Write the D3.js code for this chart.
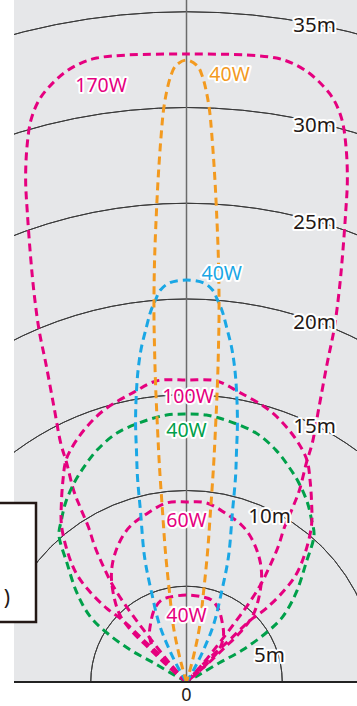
<!DOCTYPE html>
<html>
<head>
<meta charset="utf-8">
<script src="https://cdn.jsdelivr.net/npm/d3@7"></script>
<style>
  html, body { margin: 0; padding: 0; background: #fff; }
  svg { display: block; }
</style>
</head>
<body>
<svg id="chart" width="357" height="706"></svg>
<script>
// Distance rings (m)
const rings = [5, 10, 15, 20, 25, 30, 35];
const ringLabels = ["5m", "10m", "15m", "20m", "25m", "30m", "35m"];
const originLabel = "0";

// Half outlines of each light distribution (lateral m, forward m), from the tip back to the lamp
const lamp170W = [[0, 32.79], [3.13, 32.74], [4.70, 32.58], [5.51, 32.32], [6.40, 31.80], [7.18, 31.07], [7.70, 30.39],
  [8.12, 29.35], [8.33, 27.94], [8.40, 26.21], [8.31, 24.49], [8.14, 22.19], [7.96, 20.31], [7.70, 18.38],
  [7.35, 16.66], [6.92, 14.36], [6.57, 12.48], [6.26, 11.44], [5.90, 10.03], [5.56, 9.14], [5.12, 8.09],
  [4.78, 7.05], [4.33, 6.01], [3.92, 5.17], [3.34, 4.23], [2.51, 3.08], [1.67, 1.98], [0.84, 0.94], [0, 0]];
const lamp40WOrange = [[0, 32.48], [0.57, 32.17], [0.84, 31.59], [1.04, 30.81], [1.20, 29.87], [1.31, 28.72],
  [1.46, 26.63], [1.57, 24.54], [1.67, 21.93], [1.70, 19.32], [1.67, 17.49], [1.62, 15.67], [1.51, 13.16],
  [1.41, 11.23], [1.25, 8.88], [1.10, 6.79], [0.89, 4.70], [0.68, 2.87], [0.42, 1.57], [0.21, 0.73], [0, 0]];
const lamp40WCyan = [[0, 20.99], [0.89, 20.84], [1.36, 20.47], [1.62, 19.95], [1.88, 19.32], [2.09, 18.54],
  [2.35, 17.49], [2.51, 16.45], [2.61, 15.25], [2.66, 13.58], [2.61, 12.01], [2.56, 10.70], [2.40, 8.88],
  [2.19, 6.53], [1.83, 4.70], [1.41, 2.98], [0.84, 1.57], [0.37, 0.63], [0, 0]];
const lamp100W = [[0, 15.77], [1.57, 15.72], [2.74, 15.14], [4.31, 14.20], [5.35, 13.16], [6.06, 12.11],
  [6.32, 11.49], [6.45, 10.55], [6.53, 9.40], [6.53, 8.20], [6.21, 6.79], [5.74, 5.64], [5.12, 4.80],
  [4.18, 3.86], [3.29, 3.19], [2.19, 2.14], [1.04, 1.10], [0, 0]];
const lamp40WGreen = [[0, 13.99], [1.04, 13.94], [2.19, 13.63], [3.63, 13.00], [4.67, 12.11], [5.35, 11.23],
  [5.87, 10.39], [6.32, 9.35], [6.53, 8.46], [6.66, 7.68], [6.24, 6.21], [5.72, 4.65], [5.01, 3.39],
  [4.15, 2.56], [2.92, 1.67], [1.70, 0.99], [0.65, 0.37], [0, 0]];
const lamp60W = [[0, 9.40], [1.04, 9.35], [2.25, 8.67], [2.87, 8.20], [3.26, 7.73], [3.63, 7.00], [3.86, 6.21],
  [3.92, 5.43], [3.76, 4.33], [3.45, 3.45], [2.82, 2.61], [1.98, 1.78], [1.04, 0.89], [0, 0]];
const lamp40WSmall = [[0, 4.54], [0.84, 4.44], [1.31, 4.28], [1.67, 3.81], [1.88, 3.03], [1.93, 2.40],
  [1.72, 1.72], [1.15, 1.04], [0.52, 0.42], [0, 0]];

const seriesNames = ["170W", "40W", "40W", "100W", "40W", "60W", "40W"];
const seriesData = [lamp170W, lamp40WOrange, lamp40WCyan, lamp100W, lamp40WGreen, lamp60W, lamp40WSmall];
const seriesColors = ["#e5007f", "#f39a1f", "#1aa7e5", "#e5007f", "#00a04a", "#e5007f", "#e5007f"];

// ---------- layout ----------
const W = 357, H = 706;
const plot = { left: 14, right: 357, top: 0, bottom: 682 };
const cx = 186.5;
const pxPerM = 19.15;

const x = d3.scaleLinear().domain([-1, 1]).range([cx - pxPerM, cx + pxPerM]);
const y = d3.scaleLinear().domain([0, 35]).range([plot.bottom, plot.bottom - 35 * pxPerM]);
const rpx = m => x(m) - x(0);

const svg = d3.select("#chart");
const font = "'Noto Sans', 'DejaVu Sans', sans-serif";

svg.append("defs").append("clipPath").attr("id", "plotClip")
  .append("rect")
  .attr("x", plot.left).attr("y", plot.top)
  .attr("width", plot.right - plot.left).attr("height", plot.bottom - plot.top);

svg.append("rect")
  .attr("x", plot.left).attr("y", plot.top)
  .attr("width", plot.right - plot.left).attr("height", plot.bottom - plot.top)
  .attr("fill", "#e6e7e9");

const g = svg.append("g").attr("clip-path", "url(#plotClip)");

// distance rings
const arc = d3.arc()
  .startAngle(-Math.PI / 2).endAngle(Math.PI / 2);
g.selectAll("path.ring").data(rings).join("path")
  .attr("class", "ring")
  .attr("transform", `translate(${x(0)},${y(0)})`)
  .attr("d", r => arc({ innerRadius: rpx(r), outerRadius: rpx(r) }))
  .attr("fill", "none")
  .attr("stroke", "#3a3a3a")
  .attr("stroke-width", 1);

// centre axis
g.append("line")
  .attr("x1", x(0)).attr("x2", x(0))
  .attr("y1", plot.top).attr("y2", plot.bottom)
  .attr("stroke", "#6b6b6b").attr("stroke-width", 1.5);

// light distribution outlines, mirrored about the axis
const line = d3.line()
  .x(d => x(d[0])).y(d => y(d[1]))
  .curve(d3.curveCatmullRom.alpha(0.5));
const fullOutline = half => {
  const left = half.slice().reverse().map(d => [-d[0], d[1]]);
  return left.concat(half.slice(1));
};
const drawOrder = [0, 4, 3, 5, 6, 2, 1];
g.selectAll("path.lamp").data(drawOrder).join("path")
  .attr("class", "lamp")
  .attr("d", i => line(fullOutline(seriesData[i])))
  .attr("fill", "none")
  .attr("stroke", i => seriesColors[i])
  .attr("stroke-width", 3)
  .attr("stroke-dasharray", "8,5");

// baseline
svg.append("line")
  .attr("x1", plot.left).attr("x2", plot.right)
  .attr("y1", plot.bottom).attr("y2", plot.bottom)
  .attr("stroke", "#222").attr("stroke-width", 2);

// ring labels along the arcs
const ringLabelPos = (r) => {
  const off = r >= 15 ? 128 : 83;
  const R = rpx(r);
  const dy = Math.sqrt(Math.max(R * R - off * off, 0));
  const extra = r === 5 ? 20 : (r === 10 ? 6 : (r === 30 ? 2 : 0));
  return [x(0) + off, y(0) - dy + extra];
};
svg.selectAll("text.ring").data(rings).join("text")
  .attr("class", "ring")
  .attr("x", r => ringLabelPos(r)[0])
  .attr("y", r => ringLabelPos(r)[1])
  .attr("text-anchor", "middle")
  .attr("dominant-baseline", "central")
  .attr("font-family", font)
  .attr("font-size", 20.5)
  .attr("fill", "#231815")
  .attr("stroke", "#fff").attr("stroke-width", 4).attr("stroke-linejoin", "round")
  .attr("paint-order", "stroke")
  .text((r, i) => ringLabels[i]);

// series labels (lateral m, forward m)
const seriesLabelAt = [[-4.46, 31.2], [2.25, 31.75], [1.84, 21.4], [0.08, 14.96], [0, 13.16], [0, 8.46], [0, 3.5]];
svg.selectAll("text.lamp").data(seriesNames).join("text")
  .attr("class", "lamp")
  .attr("x", (d, i) => x(seriesLabelAt[i][0]))
  .attr("y", (d, i) => y(seriesLabelAt[i][1]))
  .attr("text-anchor", "middle")
  .attr("dominant-baseline", "central")
  .attr("font-family", font)
  .attr("font-size", 19.5)
  .attr("fill", (d, i) => seriesColors[i])
  .attr("stroke", "#fff").attr("stroke-width", 4).attr("stroke-linejoin", "round")
  .attr("paint-order", "stroke")
  .text(d => d);

// origin label
svg.append("text")
  .attr("x", x(0)).attr("y", 693.5)
  .attr("text-anchor", "middle")
  .attr("dominant-baseline", "central")
  .attr("font-family", font)
  .attr("font-size", 18)
  .attr("fill", "#231815")
  .text(originLabel);

// legend box (extends past the left edge)
svg.append("rect")
  .attr("x", -40).attr("y", 503)
  .attr("width", 76).attr("height", 119)
  .attr("fill", "#fff")
  .attr("stroke", "#231815").attr("stroke-width", 2.5);
svg.append("text")
  .attr("x", 10).attr("y", 597)
  .attr("text-anchor", "end")
  .attr("dominant-baseline", "central")
  .attr("font-family", font)
  .attr("font-size", 21)
  .attr("fill", "#231815")
  .text(")");
</script>
</body>
</html>
